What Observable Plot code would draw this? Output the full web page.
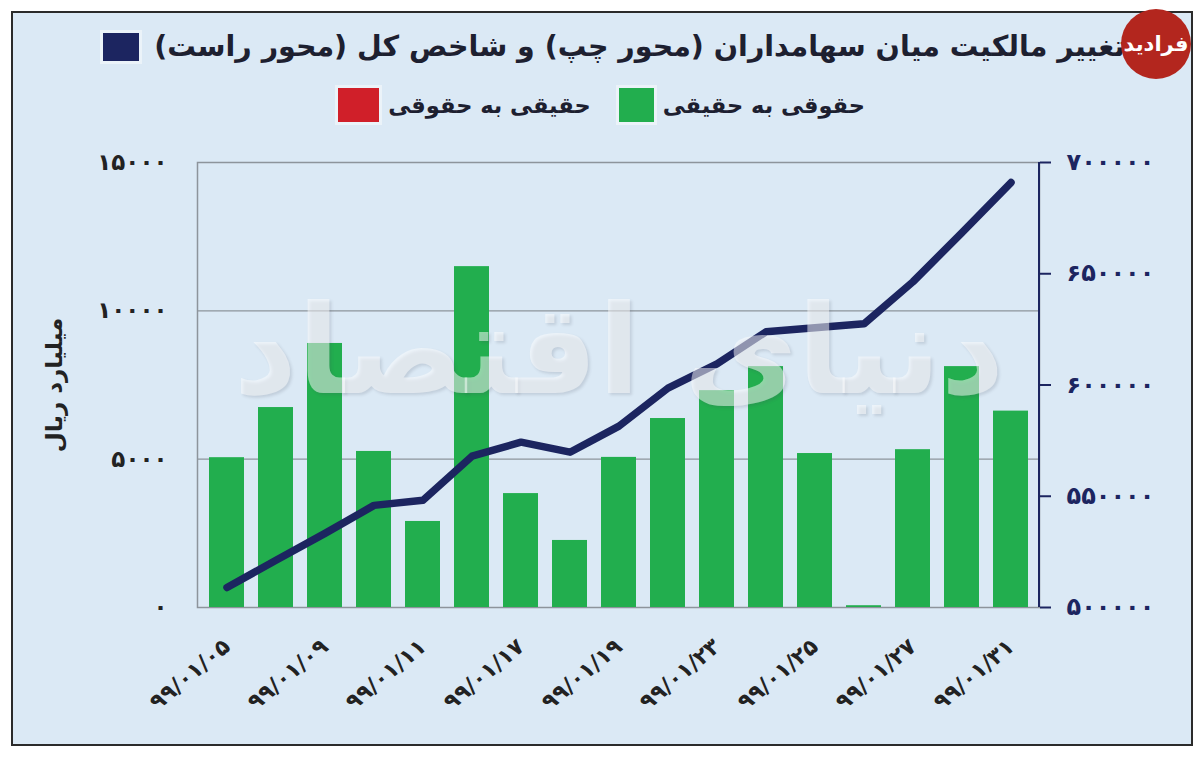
<!DOCTYPE html>
<html lang="fa">
<head>
<meta charset="utf-8">
<script src="https://cdn.jsdelivr.net/npm/d3@7"></script>
<script src="https://cdn.jsdelivr.net/npm/@observablehq/plot@0.6"></script>
<style>
  html, body { margin: 0; padding: 0; background: #ffffff; }
  body { width: 1200px; height: 757px; position: relative; overflow: hidden; font-family: "DejaVu Sans", sans-serif; }
  #panel { position: absolute; left: 11px; top: 11px; width: 1178px; height: 731px; background: #dbe9f5; border: 2px solid #2b2b2b; }
  #chart { position: absolute; left: 0; top: 140px; }
  .row { position: absolute; display: flex; direction: rtl; align-items: center; white-space: nowrap; }
  #title { right: 75px; top: 30px; }
  #title .txt { font-size: 28.5px; font-weight: bold; color: #1d2030; margin-left: 15px; }
  #legend { right: 335px; top: 88px; }
  #legend .txt { font-size: 22.5px; font-weight: bold; color: #1d2030; margin-left: 9px; }
  .sw { display: inline-block; box-shadow: 0 0 0 3px rgba(255,255,255,0.45); }
  #logo { position: absolute; left: 1121px; top: 9px; width: 70px; height: 70px; border-radius: 50%; background: #b3261e;
          color: #fff; font-weight: bold; font-size: 21px; display: flex; align-items: center; justify-content: center; direction: rtl; }
  #wm { position: absolute; left: 200px; top: 200px; width: 838px; height: 300px; display: flex; align-items: center; justify-content: center;
        direction: rtl; font-size: 124px; font-weight: bold; color: rgba(255,255,255,0.5); pointer-events: none;
        text-shadow: 2px 2px 3px rgba(60,70,90,0.16); white-space: nowrap; }
</style>
</head>
<body>
<div id="panel"></div>
<div id="chart"></div>
<div id="wm">دنیای اقتصاد</div>
<div id="title" class="row"></div>
<div id="legend" class="row"></div>
<div id="logo">فرادید</div>
<script>
// ---- data ----
const dates = ["۹۹/۰۱/۰۵","۹۹/۰۱/۰۶","۹۹/۰۱/۰۹","۹۹/۰۱/۱۰","۹۹/۰۱/۱۱","۹۹/۰۱/۱۶","۹۹/۰۱/۱۷","۹۹/۰۱/۱۸","۹۹/۰۱/۱۹","۹۹/۰۱/۲۰","۹۹/۰۱/۲۳","۹۹/۰۱/۲۴","۹۹/۰۱/۲۵","۹۹/۰۱/۲۶","۹۹/۰۱/۲۷","۹۹/۰۱/۳۰","۹۹/۰۱/۳۱"];
const labelDates = ["۹۹/۰۱/۰۵","۹۹/۰۱/۰۹","۹۹/۰۱/۱۱","۹۹/۰۱/۱۷","۹۹/۰۱/۱۹","۹۹/۰۱/۲۳","۹۹/۰۱/۲۵","۹۹/۰۱/۲۷","۹۹/۰۱/۳۱"];
const legalToReal = [5050, 6740, 8900, 5260, 2900, 11490, 3840, 2260, 5060, 6370, 7310, 8120, 5190, 60, 5320, 8120, 6620];
const realToLegal = [0, 0, 0, 0, 0, 0, 0, 0, 0, 0, 0, 0, 0, 0, 0, 0, 0];
const indexValues = [509000, 521200, 533300, 545900, 548200, 568000, 574300, 569800, 581500, 598600, 609500, 623900, 625700, 627500, 646400, 668500, 691000];
const leftTicks = [0, 5000, 10000, 15000];
const rightTicks = [500000, 550000, 600000, 650000, 700000];
const titleText = "تغییر مالکیت میان سهامداران (محور چپ) و شاخص کل (محور راست)";
const legendLabels = ["حقوقی به حقیقی", "حقیقی به حقوقی"];
const yLabel = "میلیارد ریال";

const GREEN = "#22ae4e", RED = "#d01f29", NAVY = "#1c2560", GRID = "#8d949b";
const legendColors = [GREEN, RED];

// ---- helpers ----
const faDigits = "۰۱۲۳۴۵۶۷۸۹";
const fa = v => String(v).replace(/\d/g, c => faDigits[+c]);
const L = [leftTicks[0], leftTicks[leftTicks.length - 1]];
const R = [rightTicks[0], rightTicks[rightTicks.length - 1]];
const toLeft = v => L[0] + (v - R[0]) / (R[1] - R[0]) * (L[1] - L[0]);
const fromLeft = v => Math.round(R[0] + (v - L[0]) / (L[1] - L[0]) * (R[1] - R[0]));

const table = dates.map((d, i) => ({date: d, a: legalToReal[i], b: realToLegal[i], idx: indexValues[i]}));

// ---- title & legend ----
document.getElementById("title").innerHTML =
  `<span class="txt">${titleText}</span><span class="sw" style="background:${NAVY};width:36px;height:28px"></span>`;
document.getElementById("legend").innerHTML = legendLabels.map((l, i) =>
  `<span class="txt">${l}</span><span class="sw" style="background:${legendColors[i]};width:${i ? 41 : 35}px;height:34px;margin-left:${i < legendLabels.length - 1 ? 28 : 0}px"></span>`).join("");

// ---- chart ----
const rightLine = (index, scales, values, dim) => {
  const x = dim.width - dim.marginRight;
  return d3.create("svg:line")
    .attr("x1", x).attr("x2", x)
    .attr("y1", dim.marginTop).attr("y2", dim.height - dim.marginBottom)
    .attr("stroke", NAVY).attr("stroke-width", 2).node();
};

const chart = Plot.plot({
  width: 1200,
  height: 600,
  marginLeft: 197,
  marginRight: 161,
  marginTop: 22,
  marginBottom: 133,
  style: {background: "transparent", fontFamily: "DejaVu Sans, sans-serif", overflow: "visible"},
  x: {domain: dates, paddingInner: 0.29, paddingOuter: 0.145, align: 0.5},
  y: {domain: L},
  marks: [
    Plot.gridY(leftTicks.slice(1, -1), {stroke: GRID, strokeOpacity: 1, strokeWidth: 1.2}),
    Plot.frame({stroke: GRID, strokeWidth: 1.5}),
    Plot.barY(table, {x: "date", y: "a", fill: GREEN}),
    Plot.barY(table, {x: "date", y: "b", fill: RED}),
    Plot.line(table, {x: "date", y: d => toLeft(d.idx), stroke: NAVY, strokeWidth: 7.5, strokeLinecap: "round", strokeLinejoin: "round"}),
    rightLine,
    Plot.axisY(leftTicks, {anchor: "left", tickSize: 0, tickPadding: 30, tickFormat: fa, fontSize: 23, fontWeight: "bold", color: "#222",
      label: yLabel, labelAnchor: "center", labelOffset: 152, labelArrow: "none"}),
    Plot.axisY(rightTicks.map(toLeft), {anchor: "right", tickSize: 11, tickPadding: 16, strokeWidth: 2, tickFormat: d => fa(fromLeft(d)),
      fontSize: 24, fontWeight: "bold", color: NAVY, label: null}),
    Plot.axisX(labelDates, {tickRotate: -40, tickSize: 0, tickPadding: 36, fontSize: 22, fontWeight: "bold", color: "#222", label: null})
  ]
});
document.getElementById("chart").appendChild(chart);
// wider digit spacing on tick labels (digits do not join, so spacing is safe)
const yLabelGroups = chart.querySelectorAll('g[aria-label="y-axis tick label"]');
yLabelGroups.forEach((g, i) => g.querySelectorAll("text").forEach(t => t.setAttribute("letter-spacing", i === 0 ? "1.5" : "2.5")));
chart.querySelectorAll('g[aria-label="x-axis tick label"] text').forEach(t => t.setAttribute("letter-spacing", "1"));
</script>
</body>
</html>
